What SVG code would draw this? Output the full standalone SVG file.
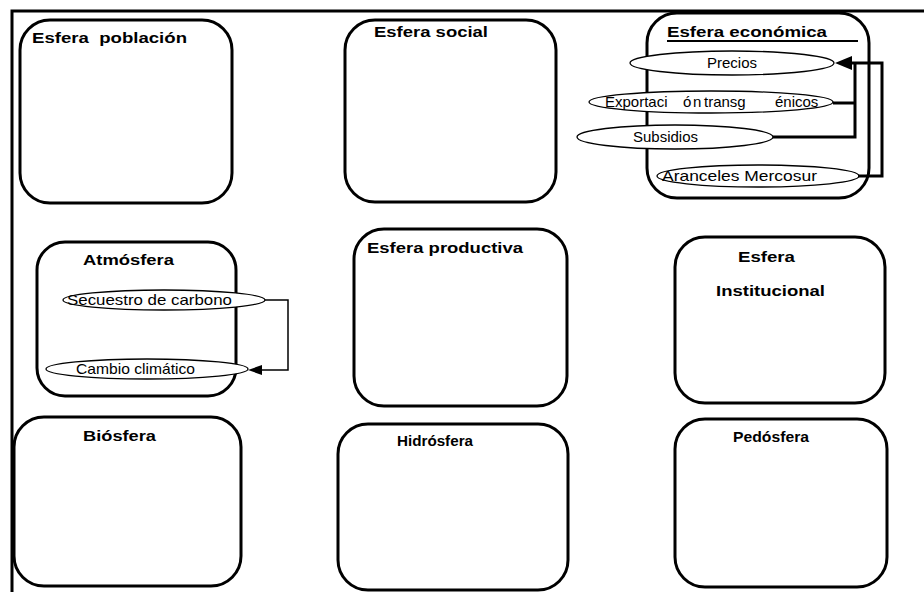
<svg xmlns="http://www.w3.org/2000/svg" width="924" height="592" viewBox="0 0 924 592">
<style>
.bg{fill:#fff}
.frame{stroke:#000;stroke-width:3;fill:none}
.box{fill:#fff;stroke:#000;stroke-width:3}
.ell{fill:#fff;stroke:#000;stroke-width:1.3}
.t{font-family:"Liberation Sans",Arial,sans-serif;font-weight:bold;font-size:15.5px;fill:#000}
.s{font-family:"Liberation Sans",Arial,sans-serif;font-size:14.5px;fill:#000}
.thick{stroke:#000;stroke-width:3;fill:none}
.thin{stroke:#000;stroke-width:1.5;fill:none}
.head{fill:#000}
</style>
<rect class="bg" x="0" y="0" width="924" height="592"/>
<g id="frame">
<path class="frame" d="M12,592 V11 H924"/>
</g>
<g id="poblacion">
<rect class="box" x="20" y="20" width="212" height="183" rx="30"/>
<text class="t" x="32" y="43" textLength="155" lengthAdjust="spacingAndGlyphs" xml:space="preserve">Esfera  población</text>
</g>
<g id="social">
<rect class="box" x="345" y="20" width="211" height="182" rx="30"/>
<text class="t" x="374" y="37" textLength="114" lengthAdjust="spacingAndGlyphs">Esfera social</text>
</g>
<g id="economica">
<rect class="box" x="647" y="13" width="222" height="185" rx="30"/>
<text class="t" x="667" y="37" textLength="160" lengthAdjust="spacingAndGlyphs">Esfera económica</text>
<line x1="667" y1="41" x2="858" y2="41" stroke="#000" stroke-width="2"/>
</g>
<g id="precios">
<ellipse class="ell" cx="732" cy="63" rx="102" ry="12"/>
<text class="s" x="707" y="68" textLength="50" lengthAdjust="spacingAndGlyphs">Precios</text>
</g>
<g id="exportacion">
<ellipse class="ell" cx="711" cy="102" rx="122" ry="11"/>
<text class="s" y="107" style="font-size:15px"><tspan x="605">Exportaci</tspan><tspan x="683">ó</tspan><tspan x="693">n</tspan><tspan x="704">transg</tspan><tspan x="775">énicos</tspan></text>
</g>
<g id="subsidios">
<ellipse class="ell" cx="675" cy="137" rx="98" ry="12"/>
<text class="s" x="633" y="142" textLength="65" lengthAdjust="spacingAndGlyphs">Subsidios</text>
</g>
<g id="aranceles">
<ellipse class="ell" cx="758" cy="176" rx="101" ry="11"/>
<text class="s" x="662" y="181" textLength="155" lengthAdjust="spacingAndGlyphs">Aranceles Mercosur</text>
</g>
<g id="atmosfera">
<rect class="box" x="37" y="242" width="199" height="154" rx="28"/>
<text class="t" x="83" y="265" textLength="91" lengthAdjust="spacingAndGlyphs">Atmósfera</text>
</g>
<g id="secuestro">
<ellipse class="ell" cx="164" cy="300" rx="101" ry="10"/>
<text class="s" x="67" y="305" textLength="165" lengthAdjust="spacingAndGlyphs">Secuestro de carbono</text>
</g>
<g id="cambio">
<ellipse class="ell" cx="147" cy="369" rx="101" ry="10"/>
<text class="s" x="76" y="374" textLength="119" lengthAdjust="spacingAndGlyphs">Cambio climático</text>
</g>
<g id="productiva">
<rect class="box" x="354" y="229" width="213" height="177" rx="30"/>
<text class="t" x="367" y="253" textLength="156" lengthAdjust="spacingAndGlyphs">Esfera productiva</text>
</g>
<g id="institucional">
<rect class="box" x="675" y="237" width="210" height="166" rx="30"/>
<text class="t" x="738" y="262" textLength="57" lengthAdjust="spacingAndGlyphs">Esfera</text>
<text class="t" x="716" y="296" textLength="109" lengthAdjust="spacingAndGlyphs">Institucional</text>
</g>
<g id="biosfera">
<rect class="box" x="14" y="417" width="227" height="169" rx="30"/>
<text class="t" x="83" y="441" textLength="73" lengthAdjust="spacingAndGlyphs">Biósfera</text>
</g>
<g id="hidrosfera">
<rect class="box" x="338" y="424" width="230" height="166" rx="30"/>
<text class="t" x="397" y="446" textLength="76" lengthAdjust="spacingAndGlyphs">Hidrósfera</text>
</g>
<g id="pedosfera">
<rect class="box" x="675" y="419" width="212" height="168" rx="30"/>
<text class="t" x="733" y="442" textLength="76" lengthAdjust="spacingAndGlyphs">Pedósfera</text>
</g>
<g id="connectors">
<path class="thick" d="M833,103 H855"/>
<path class="thick" d="M773,137 H855 V63"/>
<path class="thick" d="M858,176 H882 V63 H850"/>
<polygon class="head" points="835,63 852,56 852,70"/>
<path class="thin" d="M265,300 H288 V370 H260"/>
<polygon class="head" points="248,370 262,365 262,375"/>
</g>
</svg>
